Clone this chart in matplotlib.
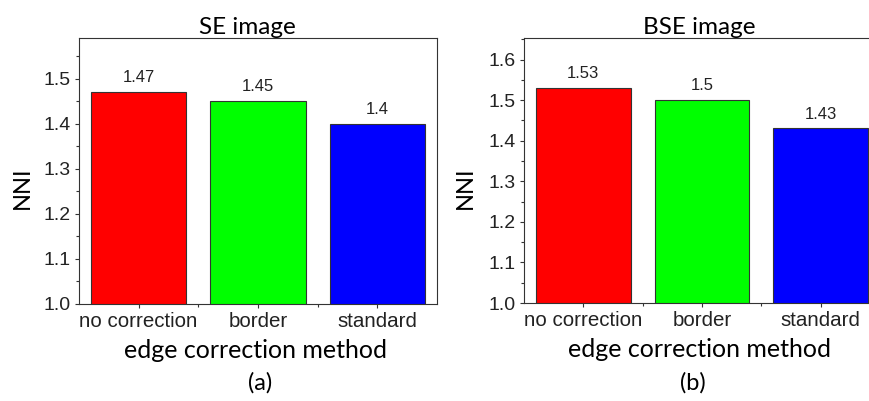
import matplotlib.pyplot as plt
from matplotlib.ticker import MultipleLocator, FixedLocator

categories = ["no correction", "border", "standard"]
se_values = [1.47, 1.45, 1.40]
bse_values = [1.53, 1.50, 1.43]
se_labels = ["1.47", "1.45", "1.4"]
bse_labels = ["1.53", "1.5", "1.43"]
colors = ["#ff0000", "#00ff00", "#0000ff"]

W, H = 869, 401
fig = plt.figure(figsize=(W / 100, H / 100), dpi=100)

label_font = "Lato"
tick_font = "Liberation Sans"


def px_axes(x0, x1, ytop, ybot):
    return fig.add_axes([x0 / W, 1 - ybot / H, (x1 - x0) / W, (ybot - ytop) / H])


def draw(ax, values, labels, ytop, title, title_xy, xlab_xy, ylab_xy):
    x = range(len(categories))
    ax.bar(x, values, width=0.8, color=colors, edgecolor="#333333", linewidth=0.8)
    for xi, v, t in zip(x, values, labels):
        ax.annotate(t, (xi, v), xytext=(0, 5), textcoords="offset points",
                    ha="center", va="bottom", fontsize=12, family=tick_font,
                    color="#222222")
    ax.set_xlim(-0.5, 2.5)
    ax.set_ylim(1.0, ytop)
    ax.yaxis.set_major_locator(MultipleLocator(0.1))
    ax.yaxis.set_minor_locator(MultipleLocator(0.05))
    ax.set_yticklabels([f"{t:.1f}" for t in ax.get_yticks()])
    ax.set_xticks(list(x))
    ax.set_xticklabels(categories)
    ax.xaxis.set_minor_locator(FixedLocator([0.5, 1.5]))
    ax.tick_params(which="major", direction="out", length=3, width=0.8,
                   color="#333333", labelsize=14, pad=3)
    ax.tick_params(axis="x", which="major", labelsize=14.8)
    ax.tick_params(which="minor", direction="out", length=2, width=0.8,
                   color="#333333")
    for lab in ax.get_xticklabels() + ax.get_yticklabels():
        lab.set_family(tick_font)
        lab.set_color("#222222")
    for s in ax.spines.values():
        s.set_color("#333333")
        s.set_linewidth(0.8)

    ax.set_title(title, fontsize=17.5, family=label_font, va="center")
    ax.title.set_position(title_xy)
    ax.set_xlabel("edge correction method", fontsize=18, family=label_font, va="center")
    ax.xaxis.set_label_coords(*xlab_xy)
    ax.set_ylabel("NNI", fontsize=17, family=label_font, va="center")
    ax.yaxis.set_label_coords(*ylab_xy)


ax1 = px_axes(79, 437, 38, 304)
draw(ax1, se_values, se_labels, 1.59, "SE image",
     (0.469, 1.075), (0.494, -0.173), (-0.157, 0.436))

ax2 = px_axes(524, 880, 38, 303)
draw(ax2, bse_values, bse_labels, 1.653, "BSE image",
     (0.492, 1.057), (0.494, -0.177), (-0.166, 0.434))

fig.text(260 / W, 1 - 383 / H, "(a)", fontsize=17, family=label_font, ha="center", va="center")
fig.text(693 / W, 1 - 383 / H, "(b)", fontsize=17, family=label_font, ha="center", va="center")

fig.savefig("out.png", dpi=100)
